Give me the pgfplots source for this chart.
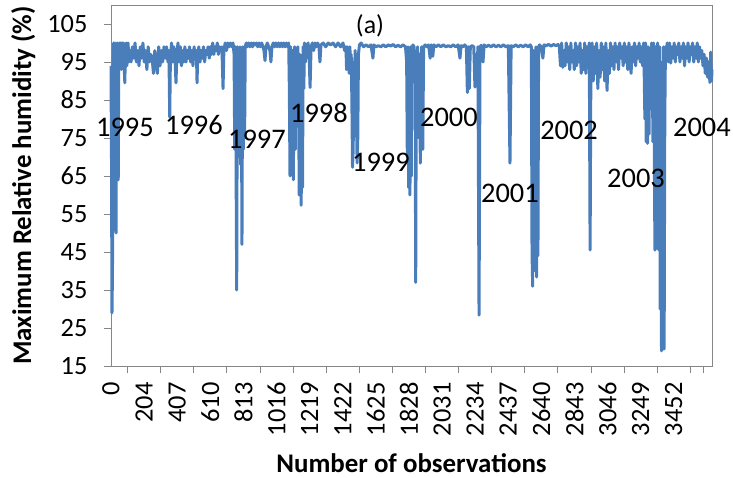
\documentclass[border=0pt]{standalone}
\usepackage{pgfplots}
\pgfplotsset{compat=1.18}
\usepackage{fontspec}
\setmainfont{Carlito}
\definecolor{lineblue}{RGB}{74,126,187}
\definecolor{axgray}{RGB}{134,134,134}
\begin{document}
\begin{tikzpicture}[x=1bp,y=1bp]
\useasboundingbox (0,0) rectangle (733,478);
\begin{axis}[
  at={(111bp,112bp)}, anchor=south west,
  width=601bp, height=361bp, scale only axis,
  xmin=0, xmax=3653, ymin=15, ymax=110,
  clip=false,
  axis line style={axgray, line width=0.9bp},
  tick style={axgray, line width=0.9bp},
  tick align=outside, major tick length=7bp,
  tick pos=left,
  ytick={15,25,35,45,55,65,75,85,95,105},
  xtick={100.6,301.8,503,704.2,905.4,1106.6,1307.8,1509,1710.2,1911.4,2112.6,2313.8,2515,2716.2,2917.4,3118.6,3319.8,3521,3600},
  xticklabels={},
  extra x ticks={0,201.2,402.4,603.6,804.8,1006,1207.2,1408.4,1609.6,1810.8,2012,2213.2,2414.4,2615.6,2816.8,3018,3219.2,3420.4},
  extra x tick labels={0,204,407,610,813,1016,1219,1422,1625,1828,2031,2234,2437,2640,2843,3046,3249,3452},
  extra x tick style={major tick length=0pt, tick style={draw=none}},
  /pgf/number format/assume math mode=true,
  tick label style={font=\fontsize{26.5}{30}\selectfont, black},
  xticklabel style={rotate=90, anchor=east},
  xticklabel shift=13bp,
  yticklabel style={anchor=east, xshift=-13bp},
  xlabel={\textbf{Number of observations}},
  ylabel={\textbf{Maximum Relative humidity (\%)}},
  label style={font=\fontsize{27}{30}\selectfont},
  xlabel style={at={(axis description cs:0.5,-0.269)}, anchor=center},
  ylabel style={at={(axis description cs:-0.146,0.5)}, anchor=center},
]
\addplot[lineblue, line width=3bp, line join=round, mark=none] table {
x y
0 94
3 70
6 29
9 40
12 90
16 100
20 97
24 100
28 52
31 50
34 99
38 100
41 95
44 64
47 97
51 100
55 96
59 100
63 93
67 100
71 97
75 100
79 95
84 89.5
88 99
92 100
96 94
100 99
104 100
108 95
115 98
122 95
130 99
138 96
146 100
154 95
162 98
170 94
178 99
186 96
194 100
202 95
210 98
218 93
226 99
234 95
242 97
250 96
258 92
266 98
274 95
282 92
290 99
298 94
306 98
314 95
322 99
330 96
338 99
346 95
352 98
357 80.5
361 96
368 100
375 95
382 99
389 96
395 89.5
400 97
407 100
414 95
421 99
428 94
435 98
442 95
449 99
456 95
463 98
470 96
477 99
484 95
491 98
498 94
505 99
512 96
519 98
523 89.5
527 97
534 99
541 95
548 98
555 96
562 99
569 95
576 98
583 97
590 99
597 96
604 99
611 97
618 100
625 97
632 99
639 98
646 100
653 97
660 99
667 98
674 99
681 88
686 98
694 100
702 98
710 100
718 99
726 100
734 99
742 100
748 97
752 72
756 99
760 70
764 35
768 99
772 72
776 98
780 70
784 99
788 68
792 97
796 47
800 99
804 72
808 98
812 75
816 99
822 100
828 99
836 100
844 99
852 100
860 99
868 100
876 99.5
884 100
892 99
900 100
908 99
916 100
924 99
930 98
936 95.4
942 99
950 100
958 99
966 98
972 95
978 99
986 100
994 99
1002 100
1010 99
1018 100
1026 99
1034 100
1042 99
1050 100
1058 99
1066 100
1074 99
1080 100
1084 88
1088 65
1092 99
1096 70
1100 88
1104 98
1108 64
1112 85
1116 99
1120 72
1124 97
1128 78
1132 90
1136 99
1140 88
1144 60
1148 97
1152 75
1156 57.3
1160 95
1164 62
1168 99
1172 88
1176 100
1182 95
1190 99
1198 100
1204 97
1210 88.3
1216 99
1224 100
1232 98
1240 100
1248 99
1256 100
1264 99
1270 95
1276 99.5
1290 100
1305 99
1320 100
1335 99.5
1350 100
1365 99
1380 100
1395 99
1410 100
1420 98
1428 99
1432 93
1436 99
1440 93
1444 98
1448 92
1452 99
1456 93
1460 97
1464 85
1468 67.3
1472 72
1476 95
1480 90
1484 98
1488 93
1492 80
1496 68.4
1500 75
1504 97
1510 99.5
1520 100
1535 99
1550 99.5
1565 99
1580 99.5
1592 96
1598 99.5
1610 99
1625 99.3
1640 99
1655 99.5
1670 99
1685 99.5
1700 99.2
1715 99.6
1730 99
1745 99.4
1760 99
1775 99.5
1790 99
1797 95
1801 70
1805 99
1809 62
1813 96
1817 60
1821 99
1825 65
1829 98
1835 99.5
1842 99
1848 95
1852 37
1856 97
1860 90
1864 99
1872 75
1876 97
1880 68.4
1884 90
1888 99
1895 72
1900 99
1910 99.5
1920 99
1930 99.5
1940 96
1946 99.5
1956 96.5
1962 99.5
1975 99
1990 99.5
2005 99
2020 99.5
2035 99
2050 99.3
2065 99
2080 99.5
2095 99
2110 99.5
2121 96
2128 99.3
2140 99
2150 99.5
2160 99
2166 87
2172 99
2178 88
2184 99
2195 99.3
2205 99
2212 88.4
2218 97
2224 91
2230 99
2237 28.4
2243 99
2250 99.4
2261 95
2268 99.5
2280 99
2295 99.4
2310 99
2325 99.5
2340 99
2355 99.4
2370 99
2385 99.5
2400 99
2415 99.3
2425 68.4
2432 99.3
2445 99
2460 99.5
2475 99
2490 99.4
2505 99
2520 99.5
2535 99
2548 99.5
2555 99
2559 45
2563 36
2567 98
2571 42
2575 97
2579 40
2583 99
2587 38.4
2591 96
2595 44
2599 99
2605 99.5
2615 99
2625 96
2632 99.5
2645 99.3
2660 99.6
2675 99.2
2690 99.6
2705 99.3
2718 99.6
2725 99
2732 94
2739 100
2746 93.6
2753 98
2760 94
2767 100
2774 95
2781 99
2788 93
2795 100
2802 95
2809 98
2816 93
2823 100
2830 94
2837 99
2844 95
2851 100
2858 92
2865 98
2872 93
2879 100
2886 92
2893 99
2900 95
2907 100
2912 45.5
2917 96
2924 100
2931 90
2938 99
2945 92
2952 100
2959 88
2966 98
2973 91
2980 100
2987 93
2994 99
3001 90
3008 100
3015 87.5
3022 98
3029 92
3036 100
3043 94
3050 99
3057 93
3064 100
3071 95
3078 99
3085 93
3092 100
3099 96
3106 99
3113 94
3120 100
3127 95
3134 99
3141 93
3148 100
3155 96
3161 92
3168 99
3175 95
3182 100
3189 94
3196 99
3203 96
3210 100
3217 95
3224 99
3231 94
3238 100
3245 80
3249 100
3253 74
3257 95
3261 73.6
3265 99
3270 76
3275 97
3280 93
3286 100
3290 94
3294 74
3298 100
3302 73.6
3306 45.5
3310 99
3314 74
3318 46
3322 100
3326 73
3330 45.5
3334 99
3338 30
3342 95
3346 19
3350 90
3354 40
3358 99
3362 19.5
3366 80
3370 99
3374 96
3381 100
3388 95
3395 100
3402 94.7
3409 99
3416 96
3423 100
3430 95
3437 99
3444 97
3451 100
3458 95
3465 99
3472 96
3479 100
3486 94
3493 99
3500 96
3507 100
3514 95
3521 99
3528 97
3535 100
3542 95
3549 99
3556 96
3563 100
3570 95
3577 99
3584 96
3591 98
3598 94
3605 97
3612 92
3619 96
3626 91
3633 95
3640 89.6
3645 97.6
3650 90
3653 93
};
\begin{scope}[font=\fontsize{28.5}{30}\selectfont]
\node at (axis cs:85,77.8) {1995};
\node at (axis cs:504,78.4) {1996};
\node at (axis cs:887,74.7) {1997};
\node at (axis cs:1264,81.5) {1998};
\node at (axis cs:1641,68.6) {1999};
\node at (axis cs:2054,80.5) {2000};
\node at (axis cs:2425,60.5) {2001};
\node at (axis cs:2784,77.0) {2002};
\node at (axis cs:3191,64.4) {2003};
\node at (axis cs:3592,77.8) {2004};
\end{scope}
\node[font=\fontsize{26}{30}\selectfont] at (axis cs:1574,104.4) {(a)};
\end{axis}
\end{tikzpicture}
\end{document}
